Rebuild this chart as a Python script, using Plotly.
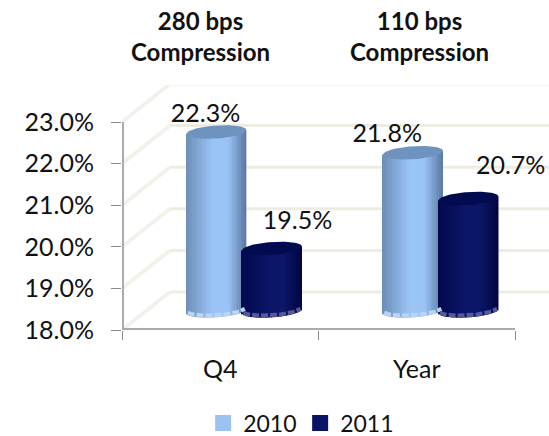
import numpy as np
import plotly.graph_objects as go

categories = ["Q4", "Year"]
values_2010 = [22.3, 21.8]
values_2011 = [19.5, 20.7]
y_ticks = [18, 19, 20, 21, 22, 23]
y_tick_labels = ["18.0%", "19.0%", "20.0%", "21.0%", "22.0%", "23.0%"]
headlines = ["280 bps<br>Compression", "110 bps<br>Compression"]

FONT = "Lato"
TEXT = "#111111"
W, H = 549, 436
LEFT, RIGHT_END, BASELINE, TOP = 122, 549, 330, 85
PX_PER_CAT, PX_PER_UNIT = 196.5, 41.6

# Oblique projection of the chart box and of the bars standing inside it
WALL_DX, WALL_DY = 48 / PX_PER_CAT, 38 / PX_PER_UNIT
BAR_LIFT = 0.46
HALF_W = 30 / PX_PER_CAT
RIM_H = 6.5 / PX_PER_UNIT
RIM_TILT = 2.0 / PX_PER_UNIT
STRIPS = 36


def shade(edge_l, mid, edge_r, t):
    left, centre, right = (np.array(c, dtype=float) for c in (edge_l, mid, edge_r))
    u = (t + 1) / 2
    # a broad highlight sits a little right of the centre
    if u < 0.45:
        c = left + (centre - left) * (u / 0.45)
    elif u < 0.7:
        c = centre
    else:
        c = centre + (right - centre) * ((u - 0.7) / 0.3)
    return "rgb(%d,%d,%d)" % tuple(c)


series = [
    dict(name="2010", values=values_2010, offset=-0.02, swatch="#9CC2F2",
         left=(108, 142, 184), mid=(155, 196, 246), right=(90, 122, 162),
         cap="#6F93BF", rim="#BCD3F3",
         label_dx=[-0.055, -0.13], label_dy=[0.084, 0.103]),
    dict(name="2011", values=values_2011, offset=0.263, swatch="#0B1464",
         left=(3, 9, 78), mid=(12, 22, 104), right=(2, 6, 66),
         cap="#020A50", rim="#55599C",
         label_dx=[0.13, 0.215], label_dy=[0.31, 0.434]),
]

fig = go.Figure()

for s in series:
    ts = (np.arange(STRIPS) + 0.5) / STRIPS * 2 - 1
    xs, tops, bases, colors = [], [], [], []
    for i, v in enumerate(s["values"]):
        cx = i + s["offset"]
        for t in ts:
            low = 18 + BAR_LIFT - RIM_H * np.sqrt(1 - t * t) + RIM_TILT * t
            xs.append(cx + t * HALF_W)
            bases.append(low)
            tops.append(v + BAR_LIFT + RIM_TILT * t - low)
            colors.append(shade(s["left"], s["mid"], s["right"], t))
    fig.add_trace(go.Bar(x=xs, y=tops, base=bases, width=2.15 * HALF_W / STRIPS,
                         marker=dict(color=colors, line=dict(width=0)),
                         showlegend=False, hoverinfo="skip"))
    # top face and the lit lower rim of each cylinder
    for i, v in enumerate(s["values"]):
        cx = i + s["offset"]
        a = np.linspace(0, 2 * np.pi, 80)
        fig.add_trace(go.Scatter(
            x=cx + HALF_W * np.cos(a),
            y=v + BAR_LIFT + RIM_H * np.sin(a) + RIM_TILT * np.cos(a),
            fill="toself", fillcolor=s["cap"], mode="lines", line=dict(width=0),
            showlegend=False, hoverinfo="skip"))
        a = np.linspace(np.pi * 1.1, np.pi * 1.9, 40)
        fig.add_trace(go.Scatter(
            x=cx + HALF_W * np.cos(a),
            y=18 + BAR_LIFT + RIM_H * np.sin(a) + RIM_TILT * np.cos(a) + 0.05,
            mode="lines", line=dict(color=s["rim"], width=4, dash="7px 2px"),
            showlegend=False, hoverinfo="skip"))

# value labels above the cylinders
for s in series:
    fig.add_trace(go.Scatter(
        x=[i + s["offset"] + d for i, d in enumerate(s["label_dx"])],
        y=[v + BAR_LIFT + d for v, d in zip(s["values"], s["label_dy"])],
        text=["%.1f%%" % v for v in s["values"]],
        mode="text", textposition="top center",
        textfont=dict(family=FONT, size=25, color=TEXT),
        cliponaxis=False, showlegend=False, hoverinfo="skip"))

# legend entries
for s in series:
    fig.add_trace(go.Scatter(x=[None], y=[None], mode="markers", name=s["name"],
                             marker=dict(symbol="square", size=16, color=s["swatch"])))

shapes = []
x_left = -0.5
x_right = x_left + (RIGHT_END - LEFT) / PX_PER_CAT
for v in y_ticks:
    shapes.append(dict(type="line", xref="x", yref="y", layer="below",
                       x0=x_left + WALL_DX, x1=x_right, y0=v + WALL_DY, y1=v + WALL_DY,
                       line=dict(color="#EEEBE0", width=3)))
    shapes.append(dict(type="line", xref="x", yref="y", layer="below",
                       x0=x_left, x1=x_left + WALL_DX, y0=v, y1=v + WALL_DY,
                       line=dict(color="#F3F1EA", width=4)))
shapes.append(dict(type="line", xref="x", yref="y", x0=x_left, x1=x_left, y0=18, y1=23,
                   line=dict(color="#ABABAB", width=4)))
shapes.append(dict(type="line", xref="x", yref="y", x0=x_left, x1=1.5, y0=18, y1=18,
                   line=dict(color="#ABABAB", width=4)))

annotations = [
    dict(text=t, x=cx, xref="x", yref="paper", yanchor="middle", showarrow=False,
         y=(BASELINE - 36) / (BASELINE - TOP),
         font=dict(family=FONT, size=24, color=TEXT, weight="bold"))
    for t, cx in zip(headlines, [-0.1, 1.015])
]

fig.update_layout(
    width=W, height=H, autosize=False,
    margin=dict(l=LEFT, r=W - RIGHT_END, t=TOP, b=H - BASELINE, autoexpand=False),
    paper_bgcolor="white", plot_bgcolor="white",
    barmode="overlay", shapes=shapes, annotations=annotations,
    showlegend=True,
    legend=dict(orientation="h", x=0.19, y=-0.38, yanchor="middle", xanchor="left",
                font=dict(family=FONT, size=23, color=TEXT),
                entrywidth=52, entrywidthmode="pixels",
                itemsizing="trace", tracegroupgap=0, bgcolor="rgba(0,0,0,0)"),
    xaxis=dict(range=[x_left, x_right], tickvals=[0, 1], ticktext=categories,
               ticks="", showgrid=False, zeroline=False, showline=False,
               ticklabelstandoff=22,
               tickfont=dict(family=FONT, size=25, color=TEXT),
               minor=dict(tickvals=[-0.5, 0.5, 1.5], ticks="outside", ticklen=9,
                          tickcolor="#8A8A8A", tickwidth=1, showgrid=False)),
    yaxis=dict(range=[18, 18 + (BASELINE - TOP) / PX_PER_UNIT], tickvals=y_ticks,
               ticktext=y_tick_labels, ticks="outside", ticklen=10, tickcolor="#8A8A8A",
               ticklabelstandoff=12, showgrid=False, zeroline=False, showline=False,
               tickfont=dict(family=FONT, size=25, color=TEXT)),
)

fig.write_html("out.html")
